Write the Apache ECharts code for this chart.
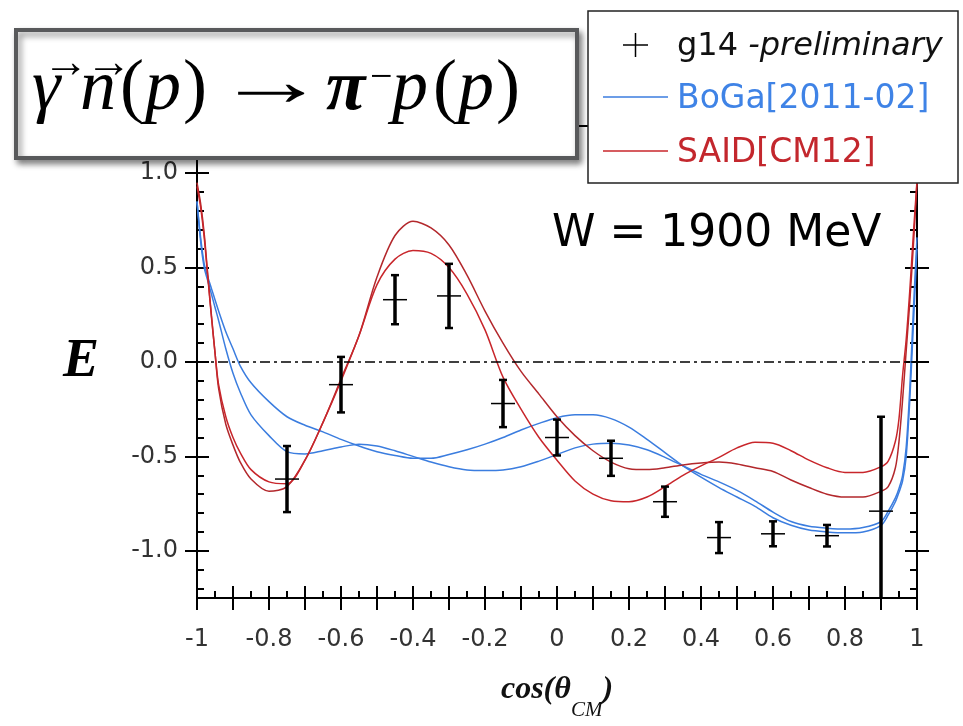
<!DOCTYPE html>
<html>
<head>
<meta charset="utf-8">
<title>E asymmetry, W = 1900 MeV</title>
<script src="https://cdn.jsdelivr.net/npm/echarts@6/dist/echarts.min.js"></script>
<style>
  html, body { margin: 0; padding: 0; background: #fff; }
  #chart { width: 963px; height: 726px; }
</style>
</head>
<body>
<div id="chart"></div>
<script>
// curve sample points (cos theta)
const xs = [-1, -0.99, -0.98, -0.97, -0.96, -0.95, -0.94, -0.92, -0.9, -0.88, -0.85,
  -0.8, -0.75, -0.7, -0.65, -0.6, -0.55, -0.5, -0.45, -0.4, -0.35, -0.3, -0.25, -0.2, -0.15,
  -0.1, -0.05, 0, 0.05, 0.1, 0.15, 0.2, 0.25, 0.3, 0.35, 0.4, 0.45, 0.5, 0.55, 0.6, 0.65,
  0.7, 0.75, 0.8, 0.85, 0.9, 0.92, 0.94, 0.95, 0.96, 0.97, 0.98, 0.99, 1]

// SAID[CM12], two curves
const saidA = [0.95, 0.84, 0.68, 0.46, 0.25, 0.05, -0.14, -0.33, -0.44, -0.53, -0.62,
  -0.685, -0.66, -0.52, -0.32, -0.09, 0.14, 0.45, 0.67, 0.745, 0.71, 0.62, 0.46, 0.27, 0.1,
  -0.05, -0.17, -0.29, -0.39, -0.47, -0.53, -0.565, -0.57, -0.56, -0.545, -0.535, -0.53, -0.54, -0.56, -0.58, -0.625,
  -0.665, -0.70, -0.715, -0.715, -0.685, -0.66, -0.56, -0.42, -0.2, 0.06, 0.32, 0.62, 0.95]
const saidB = [0.93, 0.82, 0.66, 0.45, 0.24, 0.05, -0.12, -0.29, -0.40, -0.48, -0.57,
  -0.635, -0.645, -0.52, -0.32, -0.10, 0.14, 0.41, 0.545, 0.59, 0.575, 0.50, 0.36, 0.17, -0.08,
  -0.25, -0.40, -0.52, -0.63, -0.70, -0.735, -0.74, -0.715, -0.66, -0.60, -0.55, -0.505, -0.455, -0.425, -0.43, -0.47,
  -0.52, -0.56, -0.585, -0.585, -0.555, -0.525, -0.42, -0.30, -0.07, 0.12, 0.38, 0.68, 0.96]

// BoGa[2011-02], two curves
const bogaA = [0.85, 0.66, 0.52, 0.45, 0.39, 0.33, 0.27, 0.16, 0.07, -0.02, -0.11,
  -0.21, -0.29, -0.335, -0.37, -0.41, -0.445, -0.475, -0.495, -0.51, -0.51, -0.49, -0.465, -0.435, -0.40,
  -0.36, -0.325, -0.295, -0.28, -0.28, -0.30, -0.345, -0.41, -0.48, -0.55, -0.61, -0.665, -0.715, -0.765, -0.825, -0.865,
  -0.89, -0.90, -0.905, -0.90, -0.865, -0.81, -0.74, -0.69, -0.63, -0.50, -0.20, 0.20, 0.60]
const bogaB = [0.85, 0.64, 0.50, 0.43, 0.36, 0.29, 0.22, 0.07, -0.06, -0.16, -0.28,
  -0.39, -0.475, -0.487, -0.47, -0.45, -0.435, -0.445, -0.47, -0.50, -0.53, -0.555, -0.572, -0.575, -0.572,
  -0.555, -0.525, -0.49, -0.455, -0.435, -0.43, -0.44, -0.465, -0.505, -0.55, -0.595, -0.635, -0.68, -0.735, -0.795, -0.845,
  -0.87, -0.88, -0.885, -0.877, -0.845, -0.79, -0.72, -0.67, -0.60, -0.45, -0.14, 0.28, 0.66]

// g14 preliminary data
const g14X = [-0.75, -0.6, -0.45, -0.3, -0.15, 0, 0.15, 0.3, 0.45, 0.6, 0.75, 0.9]
const g14E = [-0.62, -0.12, 0.33, 0.35, -0.22, -0.40, -0.51, -0.74, -0.93, -0.91, -0.92, -0.79]
const g14Err = [0.175, 0.147, 0.13, 0.17, 0.125, 0.095, 0.093, 0.08, 0.082, 0.066, 0.057, 0.5]

// ticks
const xMajorTicks = [-1, -0.9, -0.8, -0.7, -0.6, -0.5, -0.4, -0.3, -0.2, -0.1, 0, 0.1, 0.2, 0.3, 0.4, 0.5, 0.6, 0.7, 0.8, 0.9, 1]
const xMinorTicks = [-0.95, -0.85, -0.75, -0.65, -0.55, -0.45, -0.35, -0.25, -0.15, -0.05, 0.05, 0.15, 0.25, 0.35, 0.45, 0.55, 0.65, 0.75, 0.85, 0.95]
const xTickLabels = [-1, -0.8, -0.6, -0.4, -0.2, 0, 0.2, 0.4, 0.6, 0.8, 1]
const yMajorTicks = [-1, -0.5, 0, 0.5, 1]
const yMinorTicks = [-1.2, -1.1, -0.9, -0.8, -0.7, -0.6, -0.4, -0.3, -0.2, -0.1, 0.1, 0.2, 0.3, 0.4, 0.6, 0.7, 0.8, 0.9, 1.1, 1.2]

const X_MIN = -1, X_MAX = 1, Y_MIN = -1.25, Y_MAX = 1.25
const BLUE = '#3b7ddf'
const RED = '#b3282c'
const RED2 = '#c8262b'

const chart = echarts.init(document.getElementById('chart'))

// one axis layer: only the bits asked for are visible
function axis(position, min, max, opts) {
  const o = opts || {}
  return {
    type: 'value', position, min, max,
    splitLine: { show: false },
    axisLine: { show: !!o.line, onZero: false, lineStyle: { color: '#000', width: 2 } },
    axisTick: o.ticks ? {
      show: true, inside: o.inside, length: o.len,
      customValues: o.ticks, lineStyle: { color: '#000', width: 2 }
    } : { show: false },
    axisLabel: { show: false }
  }
}

const xMain = axis('bottom', X_MIN, X_MAX, { line: true, ticks: xMajorTicks, inside: true, len: 12 })
xMain.axisLabel = {
  show: true, customValues: xTickLabels, margin: 30,
  fontFamily: 'DejaVu Sans', fontSize: 24, color: '#333'
}
const serifBI = { fontFamily: 'Liberation Serif', fontStyle: 'italic', fontWeight: 'bold', fontSize: 32, color: '#111' }
xMain.name = '{a|cos(}{a|θ}{c|CM}{a|)}'
xMain.nameLocation = 'middle'
xMain.nameGap = 60
xMain.nameTextStyle = {
  rich: {
    a: serifBI,
    c: { fontFamily: 'Liberation Serif', fontStyle: 'italic', fontSize: 21, color: '#111', padding: [42, 0, 0, 0] }
  }
}

const yMain = axis('left', Y_MIN, Y_MAX, { line: true, ticks: yMajorTicks, inside: true, len: 12 })
yMain.axisLabel = {
  show: true, customValues: yMajorTicks, margin: 19,
  fontFamily: 'DejaVu Sans', fontSize: 24, color: '#333',
  formatter: v => v.toFixed(1)
}
yMain.name = 'E'
yMain.nameLocation = 'middle'
yMain.nameRotate = 0
yMain.nameGap = 98
yMain.nameTextStyle = { fontFamily: 'Liberation Serif', fontStyle: 'italic', fontWeight: 'bold', fontSize: 54, color: '#000' }

// reaction formula, laid out piece by piece
const serif = 'Liberation Serif'
const titlePieces = [
  { t: 'γ', x: 32, it: true },
  { t: 'n', x: 80, it: true },
  { t: '(', x: 120 },
  { t: 'p', x: 145, it: true },
  { t: ')', x: 183 },
  { t: 'π', x: 326, it: true, bold: true },
  { t: 'p', x: 392, it: true },
  { t: '(', x: 433 },
  { t: 'p', x: 458, it: true },
  { t: ')', x: 496 }
]
const titleGraphic = titlePieces.map(p => ({
  type: 'text', z: 101, x: p.x, y: 90,
  style: {
    text: p.t, verticalAlign: 'middle', fill: '#000',
    fontFamily: serif, fontSize: 72,
    fontStyle: p.it ? 'italic' : 'normal', fontWeight: p.bold ? 'bold' : 'normal'
  }
}))
titleGraphic.push(
  // reaction arrow, stretched sideways
  { type: 'text', z: 101, x: 215, y: 86, scaleX: 1.55, style: { text: '→', verticalAlign: 'middle', fontFamily: serif, fontSize: 72, fill: '#000' } },
  { type: 'text', z: 101, x: 370, y: 78, style: { text: '−', verticalAlign: 'middle', fontFamily: serif, fontSize: 40, fill: '#000' } },
  // vector arrows over gamma and n
  { type: 'text', z: 102, x: 43, y: 65, style: { text: '→', verticalAlign: 'middle', fontFamily: serif, fontSize: 46, fill: '#000' } },
  { type: 'text', z: 102, x: 86, y: 65, style: { text: '→', verticalAlign: 'middle', fontFamily: serif, fontSize: 46, fill: '#000' } }
)

const option = {
  animation: false,
  backgroundColor: '#fff',
  title: {
    text: 'W = 1900 MeV', left: 552, top: 213, padding: 0,
    textStyle: { fontFamily: 'DejaVu Sans', fontSize: 44, fontWeight: 'normal', color: '#000' }
  },
  grid: { left: 197, right: 46, top: 126, bottom: 119 },
  xAxis: [
    xMain,
    axis('bottom', X_MIN, X_MAX, { ticks: xMinorTicks, inside: true, len: 7 }),
    axis('bottom', X_MIN, X_MAX, { ticks: xMajorTicks, inside: false, len: 12 }),
    axis('top', X_MIN, X_MAX, { line: true })
  ],
  yAxis: [
    yMain,
    axis('left', Y_MIN, Y_MAX, { ticks: yMinorTicks, inside: true, len: 7 }),
    axis('left', Y_MIN, Y_MAX, { ticks: yMajorTicks, inside: false, len: 12 }),
    axis('right', Y_MIN, Y_MAX, { line: true, ticks: yMajorTicks, inside: true, len: 12 }),
    axis('right', Y_MIN, Y_MAX, { ticks: yMinorTicks, inside: true, len: 7 }),
    axis('right', Y_MIN, Y_MAX, { ticks: yMajorTicks, inside: false, len: 12 })
  ],
  series: [
    {
      name: 'BoGa[2011-02] a', type: 'line', smooth: 0.3, showSymbol: false,
      data: xs.map((x, i) => [x, bogaA[i]]),
      lineStyle: { color: BLUE, width: 1.5 },
      markLine: {
        silent: true, symbol: 'none', label: { show: false },
        lineStyle: { color: '#000', width: 1.5, type: [10, 4, 3, 4] },
        data: [{ yAxis: 0 }]
      }
    },
    {
      name: 'BoGa[2011-02] b', type: 'line', smooth: 0.3, showSymbol: false,
      data: xs.map((x, i) => [x, bogaB[i]]),
      lineStyle: { color: BLUE, width: 1.5 }
    },
    {
      name: 'SAID[CM12] a', type: 'line', smooth: 0.3, showSymbol: false,
      data: xs.map((x, i) => [x, saidA[i]]),
      lineStyle: { color: RED, width: 1.5 }
    },
    {
      name: 'SAID[CM12] b', type: 'line', smooth: 0.3, showSymbol: false,
      data: xs.map((x, i) => [x, saidB[i]]),
      lineStyle: { color: RED2, width: 1.5 }
    },
    {
      name: 'g14', type: 'custom', clip: true, z: 5,
      data: g14X.map((x, i) => [x, g14E[i], g14Err[i]]),
      encode: { x: 0, y: 1 },
      renderItem: (params, api) => {
        const x = api.value(0), e = api.value(1), err = api.value(2)
        const c = api.coord([x, e])
        const hi = api.coord([x, e + err])
        const lo = api.coord([x, e - err])
        const cap = { stroke: '#000', lineWidth: 2.5 }
        return {
          type: 'group',
          children: [
            { type: 'line', shape: { x1: c[0], y1: hi[1], x2: c[0], y2: lo[1] }, style: { stroke: '#000', lineWidth: 3.5 } },
            { type: 'line', shape: { x1: c[0] - 4, y1: hi[1], x2: c[0] + 4, y2: hi[1] }, style: cap },
            { type: 'line', shape: { x1: c[0] - 4, y1: lo[1], x2: c[0] + 4, y2: lo[1] }, style: cap },
            { type: 'line', shape: { x1: c[0] - 12, y1: c[1], x2: c[0] + 12, y2: c[1] }, style: { stroke: '#000', lineWidth: 1.5 } }
          ]
        }
      }
    }
  ],
  graphic: [
    // reaction box
    {
      type: 'rect', z: 100,
      shape: { x: 16, y: 30, width: 561, height: 128 },
      style: {
        fill: '#fff', stroke: '#58595b', lineWidth: 4,
        shadowBlur: 6, shadowOffsetX: 3, shadowOffsetY: 4, shadowColor: 'rgba(0,0,0,0.45)'
      }
    },
    ...titleGraphic,
    // legend box
    {
      type: 'rect', z: 100,
      shape: { x: 588, y: 11, width: 370, height: 172 },
      style: { fill: '#fff', stroke: '#222', lineWidth: 1.5 }
    },
    { type: 'line', z: 101, shape: { x1: 623, y1: 45, x2: 648, y2: 45 }, style: { stroke: '#000', lineWidth: 1.5 } },
    { type: 'line', z: 101, shape: { x1: 635.5, y1: 33, x2: 635.5, y2: 57 }, style: { stroke: '#000', lineWidth: 1.5 } },
    {
      type: 'text', z: 101, x: 677, y: 47,
      style: {
        text: '{n|g14 }{i|-preliminary}', verticalAlign: 'middle',
        rich: {
          n: { fontFamily: 'DejaVu Sans', fontSize: 32, fill: '#111' },
          i: { fontFamily: 'DejaVu Sans', fontStyle: 'italic', fontSize: 32, fill: '#111' }
        }
      }
    },
    { type: 'line', z: 101, shape: { x1: 603, y1: 97, x2: 668, y2: 97 }, style: { stroke: BLUE, lineWidth: 1.5 } },
    {
      type: 'text', z: 101, x: 677, y: 99,
      style: { text: 'BoGa[2011-02]', verticalAlign: 'middle', fontFamily: 'DejaVu Sans', fontSize: 33, fill: '#3f83e6' }
    },
    { type: 'line', z: 101, shape: { x1: 603, y1: 151, x2: 668, y2: 151 }, style: { stroke: RED2, lineWidth: 1.5 } },
    {
      type: 'text', z: 101, x: 677, y: 153,
      style: { text: 'SAID[CM12]', verticalAlign: 'middle', fontFamily: 'DejaVu Sans', fontSize: 33, fill: '#c3272d' }
    }
  ]
}

chart.setOption(option)
</script>
</body>
</html>
